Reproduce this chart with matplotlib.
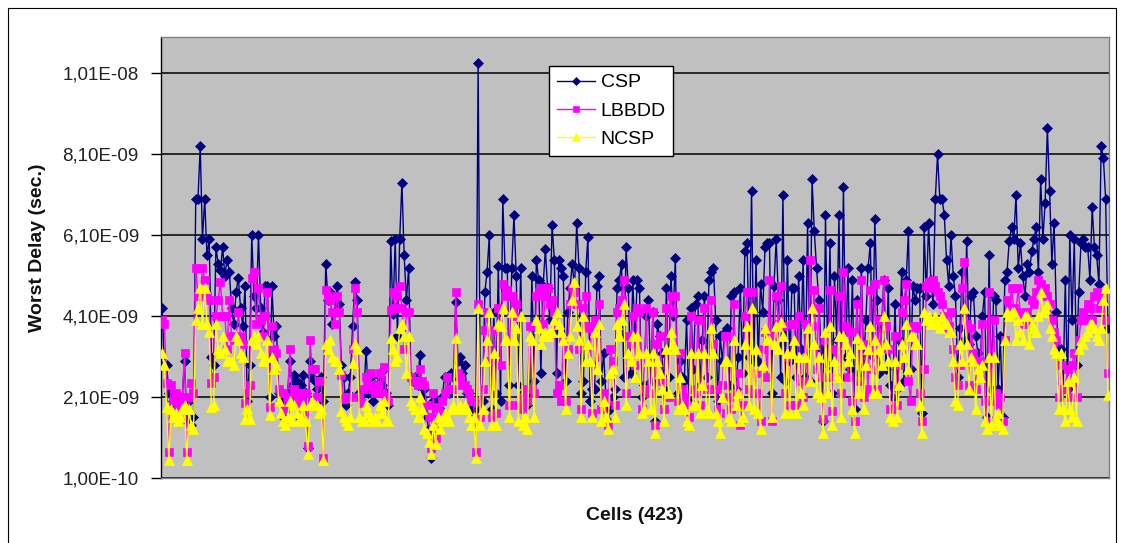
import numpy as np
import matplotlib
matplotlib.use("Agg")
import matplotlib.pyplot as plt
from matplotlib.patches import Rectangle

plt.rcParams['font.family'] = ['Liberation Sans', 'DejaVu Sans']

# ---- data (values in ns) ----
csp = [
    # cells 1-71
    4.3, 2.9, 2.9, 2.2, 2.2, 2.0, 1.9, 2.1, 2.0, 2.1,
    3.0, 1.5, 2.0, 1.4, 1.6, 7.0, 7.0, 8.3, 6.0, 7.0,
    5.6, 6.0, 3.1, 2.9, 5.8, 5.4, 5.25, 5.8, 5.1, 5.5,
    5.2, 4.3, 3.9, 4.7, 5.05, 4.3, 3.85, 4.85, 2.0, 2.9,
    6.1, 4.6, 4.3, 6.1, 4.3, 3.7, 4.85, 4.85, 2.1, 4.85,
    3.6, 3.85, 2.2, 2.0, 1.6, 1.9, 2.2, 3.0, 2.4, 2.65,
    2.5, 1.6, 2.4, 2.65, 2.2, 0.85, 3.0, 2.6, 2.5, 2.3,
    2.4,
    # cells 72-141
    2.6, 2.0, 5.4, 4.5, 4.7, 3.9, 4.2, 4.85, 4.4, 2.9,
    2.6, 1.9, 2.2, 2.6, 3.85, 4.95, 4.5, 2.2, 2.2, 2.2,
    3.25, 2.2, 2.6, 2.0, 2.4, 2.4, 2.6, 2.4, 2.8, 2.2,
    1.9, 5.95, 4.15, 6.0, 3.6, 6.0, 7.4, 5.6, 4.5, 5.3,
    2.6, 2.5, 2.6, 2.4, 3.15, 2.1, 2.3, 1.6, 1.3, 0.6,
    2.0, 1.4, 2.0, 1.8, 2.1, 2.6, 2.6, 2.2, 2.7, 2.6,
    4.45, 3.0, 3.1, 2.7, 2.9, 2.2, 2.2, 1.8, 1.6, 1.7,
    # cells 142-211
    10.35, 1.8, 2.0, 4.7, 5.2, 6.1, 1.8, 4.2, 2.2, 5.35,
    2.0, 7.0, 5.3, 5.3, 2.4, 5.3, 6.6, 5.1, 2.4, 5.3,
    2.2, 2.0, 1.9, 2.2, 5.1, 2.5, 5.5, 5.0, 2.7, 4.85,
    5.75, 4.8, 4.0, 6.35, 5.5, 2.7, 5.5, 5.3, 5.1, 2.5,
    4.2, 4.8, 5.4, 4.8, 6.4, 5.3, 2.2, 2.5, 5.2, 6.05,
    2.0, 2.3, 2.3, 4.85, 5.1, 2.5, 3.2, 2.1, 1.5, 1.8,
    2.1, 2.3, 4.8, 5.0, 5.4, 2.6, 5.8, 4.8, 2.7, 5.0,
    # cells 212-282
    3.6, 5.0, 4.8, 2.1, 2.4, 4.1, 4.5, 2.5, 4.2, 1.5,
    3.9,
    3.6, 3.2, 2.3, 4.8, 2.6, 5.1, 4.1, 5.55, 2.2, 3.0, 2.6, 2.5, 4.0, 2.0, 4.3,
    2.8,
    4.4, 4.6, 2.4, 3.5, 4.6, 2.6, 5.0, 5.2, 5.3, 4.0, 2.0, 3.6, 3.0, 3.7, 3.8,
    2.4,
    4.6, 4.7, 2.3, 3.1, 4.8, 2.7, 5.7, 5.9, 3.1, 7.2,
    3.0, 5.5, 3.0, 4.9, 4.2, 5.8, 5.9, 5.9, 2.2, 4.85,
    6.0, 4.5, 2.6, 7.1, 2.5, 5.5, 3.0, 4.8,
    # cells 283-352
    4.8, 2.6, 5.1, 3.3, 5.5, 2.6, 6.4, 2.5, 7.5, 6.2,
    5.3, 4.5, 3.3, 1.5, 6.6, 2.9, 5.9, 2.2, 5.1, 3.5,
    6.6, 2.6, 7.3, 3.1, 5.3, 2.8, 5.0, 1.8, 4.5, 2.7,
    5.3, 2.9, 4.0, 5.3, 5.9, 3.1, 6.5, 4.5, 2.7, 3.8,
    5.0, 2.8, 4.8, 2.4, 2.1, 4.4, 2.3, 3.5, 5.2, 2.5, 5.0, 6.2,
    2.8, 4.85, 4.5, 4.8, 4.8, 1.7, 6.3, 4.6, 6.4, 5.0,
    4.4, 7.0, 8.1, 7.0, 7.0, 6.6, 5.5, 4.85,
    # cells 353-423
    6.1, 5.1, 4.6, 2.6, 3.8, 5.2, 3.5, 5.96, 3.4, 4.6,
    4.7, 3.6, 3.2, 2.9, 4.1, 4.7, 1.6, 5.6, 2.3, 4.6,
    4.5, 2.3, 3.6, 1.6, 5.0, 5.2, 5.96, 6.3, 6.0, 7.1,
    5.3, 5.9, 5.1, 4.6, 5.4, 5.2, 5.7, 6.0, 6.3, 5.2,
    7.5, 6.0, 6.9, 8.75, 7.2, 5.4, 6.4, 4.2, 3.3, 3.3,
    2.3, 5.0, 2.3, 6.1, 4.0, 6.0, 2.9, 4.7, 5.9, 6.0,
    5.8, 5.8, 5.0, 6.8, 5.8, 5.6, 4.9, 8.3, 8.0, 7.0, 3.8,
]

lbbdd = [
    # cells 1-71
    4.0, 3.9, 2.45, 0.75, 2.4, 2.0, 2.2, 1.8, 1.9, 2.1,
    3.2, 0.75, 2.1, 2.45, 2.2, 5.3, 4.6, 4.6, 5.3, 5.0,
    4.6, 4.5, 2.45, 2.6, 4.1, 4.5, 4.95, 4.1, 4.1, 3.3,
    4.5, 3.6, 3.5, 3.5, 4.2, 3.6, 3.4, 1.95, 2.2, 2.4,
    5.05, 5.2, 3.9, 4.8, 4.0, 3.6, 4.1, 4.7, 1.85, 3.85,
    3.3, 3.2, 2.3, 2.2, 2.2, 1.8, 2.1, 3.3, 2.0, 2.3,
    2.2, 1.9, 2.0, 2.2, 2.2, 0.9, 3.5, 2.8, 2.8, 2.1,
    2.5,
    # cells 72-141
    2.5, 0.6, 4.75, 4.6, 4.5, 4.2, 3.9, 4.6, 4.2, 2.65,
    2.05, 2.1, 2.1, 2.1, 3.3, 4.8, 4.2, 2.1, 1.95, 2.3,
    2.6, 2.4, 2.7, 2.3, 2.2, 2.4, 2.7, 2.2, 2.85, 2.1,
    2.0, 4.25, 4.7, 4.3, 4.6, 4.85, 4.3, 3.3, 4.2, 4.2,
    2.6, 2.5, 2.5, 2.4, 2.8, 2.5, 2.4, 1.9, 1.6, 0.85,
    2.2, 1.1, 1.85, 1.7, 2.0, 2.2, 2.6, 2.3, 2.3, 2.3,
    4.7, 2.7, 2.6, 2.4, 2.4, 2.3, 2.2, 2.0, 2.0, 0.75,
    # cells 142-211
    4.4, 1.6, 2.3, 3.75, 4.2, 3.0, 1.6, 3.75, 1.7, 4.3,
    2.9, 4.9, 4.6, 4.75, 1.9, 4.6, 4.1, 4.4, 1.9, 2.1,
    1.8, 2.3, 2.0, 3.85, 2.3, 2.2, 4.6, 4.7, 4.8, 3.9,
    4.6, 4.8, 4.4, 4.5, 4.2, 2.2, 2.4, 2.0, 3.5, 2.0,
    3.3, 4.4, 4.8, 4.7, 4.4, 3.3, 1.8, 4.3, 4.6, 3.85,
    3.8, 1.7, 4.0, 3.1, 4.4, 1.8, 2.2, 2.0, 1.4, 3.3,
    3.0, 1.9, 4.2, 4.3, 4.5, 5.0, 2.2, 3.6, 3.4, 4.1,
    # cells 212-282
    2.9, 4.3, 4.2, 1.8, 2.3, 4.3, 2.2, 2.2, 4.2, 1.4,
    3.4,
    3.6, 2.5, 1.8, 4.3, 2.1, 4.6, 4.2, 4.6, 2.0, 3.2, 2.3, 2.1, 1.9, 1.6, 4.1,
    2.3,
    2.2, 4.0, 1.9, 3.2, 4.3, 2.3, 2.3, 4.5, 3.4, 2.3, 1.8, 1.7, 2.4, 3.6, 3.6,
    2.1,
    1.8, 4.4, 2.2, 2.7, 1.4, 1.9, 4.1, 4.7, 2.3, 4.7,
    2.2, 2.7, 2.2, 1.5, 3.3, 3.7, 2.6, 5.0, 1.5, 3.6,
    4.6, 3.9, 4.85, 3.85, 2.2, 3.1, 1.9, 3.9,
    # cells 283-352
    3.9, 1.9, 4.1, 2.5, 2.1, 3.9, 2.5, 5.5, 3.85, 4.75,
    2.8, 4.3, 2.6, 1.55, 3.5, 2.6, 4.75, 1.75, 3.3, 3.1,
    4.6, 2.2, 5.2, 3.85, 2.6, 3.7, 2.0, 1.5, 4.4, 2.5,
    5.0, 2.1, 3.4, 2.3, 4.75, 2.8, 4.9, 2.3, 4.0, 3.4,
    5.0, 3.85, 3.3, 1.8, 1.8, 3.6, 1.9, 2.9, 4.2, 4.5, 4.9, 2.5,
    2.0, 3.85, 3.8, 3.85, 2.2, 1.5, 2.8, 4.85, 4.95, 4.8,
    5.0, 4.85, 4.7, 4.6, 4.4, 4.1, 3.8, 3.85,
    # cells 353-423
    4.2, 3.3, 2.6, 2.4, 2.9, 4.8, 5.45, 3.9, 2.4, 3.8,
    3.2, 2.3, 3.0, 3.0, 3.9, 2.0, 1.5, 4.7, 2.0, 4.0,
    2.2, 1.9, 2.1, 1.5, 3.5, 4.5, 4.3, 4.8, 4.3, 4.2,
    4.8, 4.1, 3.9, 4.2, 4.2, 3.9, 4.5, 4.4, 4.7, 5.0,
    4.9, 4.7, 4.8, 4.6, 4.4, 4.0, 3.7, 3.5, 2.1, 2.9,
    2.3, 2.3, 2.8, 2.1, 2.9, 3.2, 2.1, 3.5, 4.0, 4.2,
    4.0, 4.4, 4.3, 4.0, 4.6, 4.7, 4.3, 4.5, 4.6, 4.0, 2.7,
]

ncsp = [
    # cells 1-71
    3.2, 2.9, 1.85, 0.55, 1.8, 1.6, 1.7, 1.5, 1.6, 1.8,
    1.9, 0.55, 1.8, 1.4, 1.3, 4.0, 4.3, 4.8, 3.9, 4.8,
    3.9, 3.7, 1.85, 1.9, 3.9, 3.3, 3.2, 3.6, 3.3, 3.0,
    3.0, 3.0, 2.9, 3.6, 3.5, 3.2, 3.1, 1.55, 1.8, 1.55,
    3.5, 3.6, 3.4, 3.6, 3.2, 3.0, 3.1, 3.5, 1.65, 3.1,
    2.8, 2.9, 2.0, 1.7, 1.5, 1.4, 1.6, 2.0, 1.5, 1.9,
    1.7, 1.5, 1.6, 1.9, 1.5, 0.7, 1.9, 2.0, 1.9, 1.9,
    1.7,
    # cells 72-141
    1.8, 0.55, 3.4, 3.3, 3.5, 3.1, 3.0, 3.0, 2.8, 1.75,
    1.6, 1.5, 1.4, 1.6, 2.95, 3.4, 3.3, 1.6, 1.5, 1.5,
    1.9, 1.7, 1.6, 1.5, 1.6, 1.5, 1.9, 1.7, 2.0, 1.5,
    1.5, 3.55, 3.3, 3.0, 3.1, 3.8, 3.9, 3.6, 2.7, 3.6,
    2.0, 1.9, 1.8, 1.6, 2.1, 1.8, 1.3, 1.2, 1.0, 0.7,
    1.4, 0.95, 1.6, 1.3, 1.5, 1.7, 1.6, 1.5, 1.8, 1.9,
    3.55, 1.8, 1.9, 1.8, 1.9, 1.8, 1.6, 1.4, 1.6, 0.6,
    # cells 142-211
    4.3, 1.4, 1.8, 3.0, 3.5, 4.2, 1.4, 3.2, 1.4, 3.9,
    3.85, 4.3, 3.5, 3.5, 1.6, 4.2, 3.5, 3.8, 1.5, 4.1,
    1.4, 1.6, 1.3, 3.6, 3.5, 1.6, 4.0, 3.8, 3.4, 3.6,
    3.7, 3.6, 3.7, 3.7, 4.0, 4.2, 3.9, 3.7, 3.5, 1.8,
    3.2, 3.6, 4.5, 4.95, 3.85, 3.5, 1.6, 4.1, 3.0, 3.4,
    3.0, 1.6, 3.7, 2.8, 3.9, 1.5, 2.0, 1.6, 1.3, 2.7,
    2.8, 1.6, 3.9, 3.6, 4.0, 4.4, 1.9, 3.2, 3.0, 3.6,
    # cells 212-282
    2.6, 3.6, 3.2, 1.7, 1.8, 3.2, 3.0, 1.8, 3.2, 1.2,
    3.0,
    2.7, 2.3, 1.5, 3.3, 2.2, 3.7, 3.4, 3.3, 1.8, 2.6, 1.9, 1.8, 1.5, 1.4, 3.2,
    1.9,
    1.9, 3.2, 1.7, 2.4, 3.2, 1.8, 1.7, 3.8, 3.2, 1.7, 1.5, 1.2, 2.1, 3.0, 3.0,
    1.6,
    1.5, 3.5, 1.9, 2.2, 1.5, 1.6, 3.4, 3.85, 1.9, 4.3,
    1.8, 3.3, 1.7, 1.3, 2.9, 3.8, 3.5, 3.5, 1.6, 3.4,
    3.85, 3.3, 3.95, 3.6, 1.7, 3.2, 1.7, 3.2,
    # cells 283-352
    3.5, 1.7, 3.1, 2.2, 1.9, 3.1, 3.8, 2.5, 4.3, 3.4,
    2.2, 3.1, 2.1, 1.2, 3.7, 2.2, 3.85, 1.4, 3.0, 2.6,
    3.6, 1.6, 3.6, 3.4, 3.0, 3.2, 1.8, 1.2, 3.55, 2.2,
    3.4, 1.8, 2.9, 3.3, 3.85, 2.2, 3.5, 2.2, 3.3, 2.9,
    4.1, 3.4, 3.0, 1.6, 1.5, 3.0, 1.6, 2.4, 3.4, 3.1, 3.9, 2.8,
    3.6, 3.6, 3.4, 3.4, 1.9, 1.2, 4.2, 4.0, 4.1, 3.9,
    3.9, 4.1, 3.9, 3.8, 4.1, 3.9, 3.9, 3.7,
    # cells 353-423
    3.7, 3.0, 2.0, 1.9, 3.4, 3.0, 4.3, 3.4, 2.3, 3.1,
    3.0, 1.8, 2.8, 2.6, 2.9, 1.5, 1.3, 3.1, 1.4, 3.1,
    1.5, 1.7, 1.4, 1.3, 3.5, 4.2, 4.1, 4.2, 4.2, 3.5,
    4.0, 3.7, 3.5, 4.1, 4.1, 3.4, 3.9, 3.8, 3.7, 4.1,
    4.7, 4.2, 4.3, 4.4, 3.8, 3.6, 3.3, 3.2, 1.8, 3.2,
    1.8, 1.5, 2.5, 1.8, 1.6, 2.6, 1.5, 3.3, 3.5, 3.4,
    3.6, 3.7, 3.9, 3.9, 3.8, 3.6, 3.5, 3.8, 4.5, 4.8, 2.15,
]

series_names = ["CSP", "LBBDD", "NCSP"]
y_ticks = [1.0e-10, 2.1e-9, 4.1e-9, 6.1e-9, 8.1e-9, 1.01e-8]
y_tick_labels = ["1,00E-10", "2,10E-09", "4,10E-09", "6,10E-09", "8,10E-09", "1,01E-08"]
n_cells = 423

# ---- figure ----
W, H = 1122, 543
fig = plt.figure(figsize=(W / 100, H / 100), dpi=100)
fig.patch.set_facecolor("white")

left, right, top, bottom = 161, 1109, 37, 478
ax = fig.add_axes([left / W, 1 - bottom / H, (right - left) / W, (bottom - top) / H])
ax.set_facecolor("#C0C0C0")

styles = [
    dict(color="#000080", marker="D", ms=5.6),
    dict(color="#FF00FF", marker="s", ms=5.8),
    dict(color="#FFFF00", marker="^", ms=7.0),
]
for name, vals, st in zip(series_names, [csp, lbbdd, ncsp], styles):
    v = np.array(vals) * 1e-9
    x = np.arange(1, len(v) + 1)
    ax.plot(x, v, color=st["color"], lw=1.0, marker=st["marker"], ms=st["ms"],
            mfc=st["color"], mec=st["color"], mew=0.5, label=name, zorder=3)

ax.set_xlim(0.5, n_cells + 0.5)
ax.set_ylim(1.0e-10, 1.1e-8)
ax.set_yticks(y_ticks)
ax.set_yticklabels(y_tick_labels, fontsize=13.5, color="#222222")
ax.set_xticks([])
ax.tick_params(axis="y", length=7, width=1, pad=9, color="black", direction="out")
ax.yaxis.grid(True, color="black", lw=1.1, zorder=1)
ax.set_axisbelow(True)
for s in ["top", "right", "bottom"]:
    ax.spines[s].set_color("#808080")
    ax.spines[s].set_linewidth(1.0)
ax.spines["left"].set_color("black")
ax.spines["left"].set_linewidth(1.0)

leg = ax.legend(loc="upper left", bbox_to_anchor=(549 / W, 1 - 66 / H),
                bbox_transform=fig.transFigure, borderaxespad=0,
                fontsize=14, handlelength=1.95, handletextpad=0.3,
                labelspacing=0.55, borderpad=0.4, fancybox=False,
                framealpha=1, edgecolor="black", markerscale=0.8)
leg.get_frame().set_linewidth(1.0)
leg.set_zorder(5)

fig.text(38 / W, 1 - 248 / H, "Worst Delay (sec.)", rotation=90, ha="center",
         va="center", fontsize=14, fontweight="bold", color="#111111")
fig.text(635 / W, 1 - 515 / H, "Cells (423)", ha="center", va="center",
         fontsize=14, fontweight="bold", color="#111111")

# outer chart border
fig.patches.append(Rectangle((7.5 / W, -0.05), (1116 - 7.5) / W, 1 - 7.5 / H + 0.05,
                             transform=fig.transFigure, fill=False,
                             edgecolor="black", lw=0.8))

fig.savefig("out.png", dpi=100, facecolor="white")
